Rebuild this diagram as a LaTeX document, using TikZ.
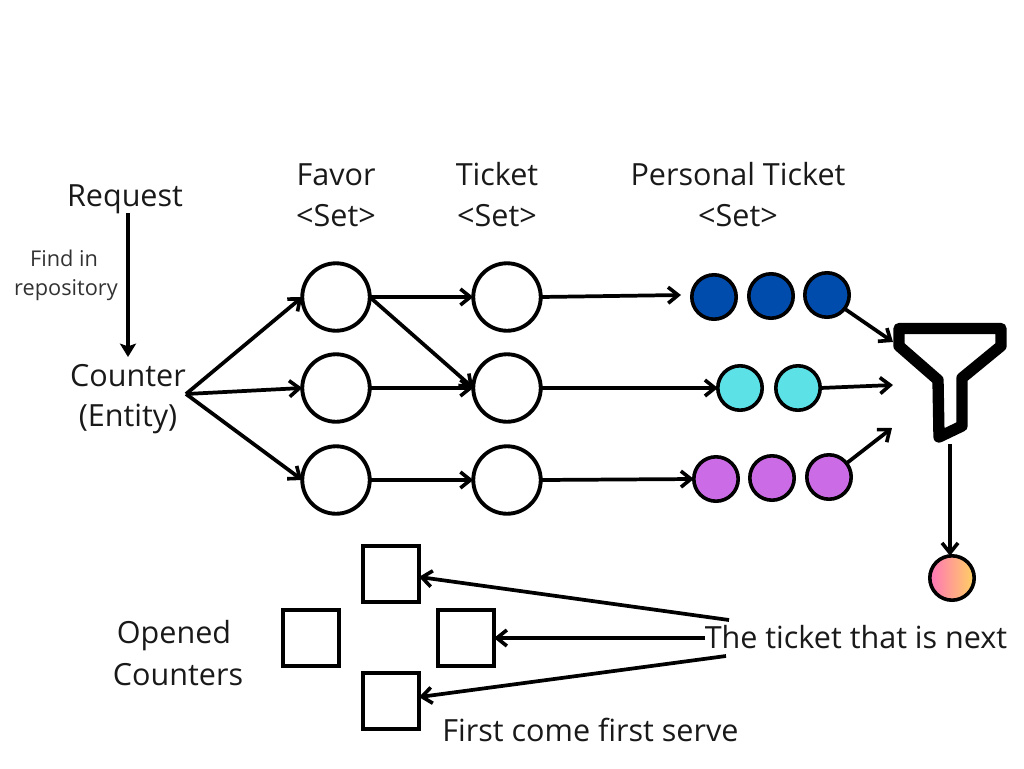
\documentclass[tikz,border=0pt]{standalone}
\usepackage{fontspec}
\setmainfont{Open Sans}
\usetikzlibrary{arrows.meta}
\definecolor{inkc}{RGB}{0,0,0}
\definecolor{bluec}{RGB}{0,76,172}
\definecolor{cyanc}{RGB}{92,225,230}
\definecolor{purplec}{RGB}{203,108,230}
\definecolor{pinkc}{RGB}{255,117,184}
\definecolor{goldc}{RGB}{255,209,98}
\definecolor{soft}{RGB}{50,50,50}
\tikzset{
  x=0.75pt,y=-0.75pt,
  bigc/.style={circle,draw=inkc,line width=2.9pt,fill=white,minimum size=50.6pt,inner sep=0pt,outer sep=0pt},
  smallc/.style={circle,draw=inkc,line width=2.7pt,minimum size=33.3pt,inner sep=0pt,outer sep=0pt},
  sq/.style={rectangle,draw=inkc,line width=2.9pt,fill=white,minimum size=42pt,inner sep=0pt,outer sep=0pt},
  lab/.style={font=\fontsize{22.9}{27}\selectfont,inner sep=0pt,anchor=base,text=black!90},
  small/.style={font=\fontsize{16.3}{19}\selectfont,inner sep=0pt,anchor=base,text=soft},
  conn/.style={line width=2.8pt,draw=inkc,-{Straight Barb[length=7.5pt,width=12pt,line width=2.7pt]}},
  solidarrow/.style={line width=2.8pt,draw=inkc,-{Stealth[length=10pt,width=12pt,inset=2pt]}},
}
\begin{document}
\begin{tikzpicture}
\useasboundingbox (0,0) rectangle (1024,768);
% texts
\node[lab] (lfavor) at (336,185.5) {Favor};
\node[lab] (sfavor) at (336,226.5) {<Set>};
\node[lab] (lticket) at (497,185.5) {Ticket};
\node[lab] (sticket) at (497,226.5) {<Set>};
\node[lab] (lpers) at (738,185.5) {Personal Ticket};
\node[lab] (spers) at (738,226.5) {<Set>};
\node[lab] (lreq) at (125,206) {Request};
\node[small] (lfind) at (64,266) {Find in};
\node[small] (lrepo) at (66,295) {repository};
\node[lab] (lcount) at (128,386) {Counter};
\node[lab] (lent) at (128,426) {(Entity)};
\node[lab] (lopen) at (174,643.5) {Opened};
\node[lab] (lcnts) at (178,685.5) {Counters};
\node[lab] (lnext) at (856,648.5) {The ticket that is next};
\node[lab] (lfirst) at (590.5,741.5) {First come first serve};
% big circles
\node[bigc] (f1) at (336,297) {};
\node[bigc] (f2) at (336,388) {};
\node[bigc] (f3) at (336,480) {};
\node[bigc] (t1) at (507,297) {};
\node[bigc] (t2) at (507,388) {};
\node[bigc] (t3) at (507,480) {};
% small circles
\node[smallc,fill=bluec] (p1) at (714,297) {};
\node[smallc,fill=bluec] (p2) at (771,296) {};
\node[smallc,fill=bluec] (p3) at (827,295) {};
\node[smallc,fill=cyanc] (c1) at (740,388) {};
\node[smallc,fill=cyanc] (c2) at (798,388) {};
\node[smallc,fill=purplec] (m1) at (716,479) {};
\node[smallc,fill=purplec] (m2) at (772,478) {};
\node[smallc,fill=purplec] (m3) at (829,477) {};
\node[smallc,left color=pinkc,right color=goldc] (res) at (952,578) {};
% squares
\node[sq] (s1) at (391,574) {};
\node[sq] (s2) at (311,638) {};
\node[sq] (s3) at (466,638) {};
\node[sq] (s4) at (391,701) {};
% funnel
\draw[line width=8.5pt,draw=inkc,line join=round,fill=white]
  (899,328.5) -- (1001,328.5) -- (1001,346) -- (962,378) -- (962,426) -- (939,437) -- (938,380) -- (899,346) -- cycle;
% free ends
\coordinate (c0) at (186,394);
\coordinate (reqs) at (128,213);
\coordinate (reqe) at (128,357);
\coordinate (fin1) at (893,342);
\coordinate (fin2) at (893,385);
\coordinate (fin3) at (892,428);
\coordinate (fout) at (950,444);
\coordinate (n1) at (729,620);
\coordinate (n2) at (705,638);
\coordinate (n3) at (726,656);
\coordinate (p0) at (681,295);
% connectors
\draw[solidarrow] (reqs) -- (reqe);
\draw[conn] (c0) -- (f1.west);
\draw[conn] (c0) -- (f2.west);
\draw[conn] (c0) -- (f3.west);
\draw[conn] (f1.east) -- (t1.west);
\draw[conn] (f1.east) -- (t2.west);
\draw[conn] (f2.east) -- (t2.west);
\draw[conn] (f3.east) -- (t3.west);
\draw[conn] (t1.east) -- (p0);
\draw[conn] (t2.east) -- (c1.west);
\draw[conn] (t3.east) -- (m1.west);
\draw[conn] (p3.-38) -- (fin1);
\draw[conn] (c2.east) -- (fin2);
\draw[conn] (m3.38) -- (fin3);
\draw[conn] (fout) -- (fout |- res.north);
\draw[conn] (n1) -- (s1.-6);
\draw[conn] (n2) -- (s3.east);
\draw[conn] (n3) -- (s4.8);
\end{tikzpicture}
\end{document}
